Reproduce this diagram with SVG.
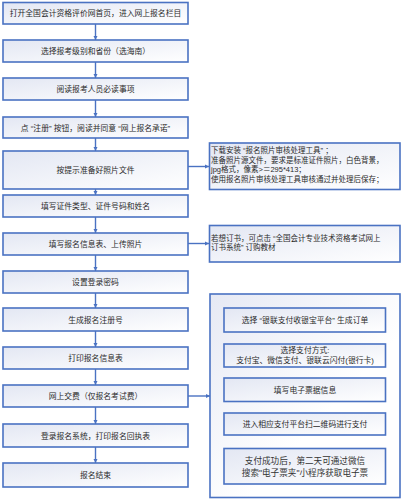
<svg xmlns="http://www.w3.org/2000/svg" width="403" height="500" viewBox="0 0 403 500">
<style>
.box{fill:url(#g);stroke:#4a72c2;stroke-width:1.6}
.panel{fill:url(#gp);stroke:#4a72c2;stroke-width:1.6}
.t{font-family:"Liberation Sans","Noto Sans CJK SC",sans-serif;font-size:7.8px;fill:#2a2a2a;text-anchor:middle}
.n{font-family:"Liberation Sans","Noto Sans CJK SC",sans-serif;font-size:7.5px;fill:#2a2a2a}
.e{font-family:"Liberation Sans","Noto Sans CJK SC",sans-serif;font-size:8.6px;fill:#333;text-anchor:middle}
.c{stroke:#4a72c2;stroke-width:1.4;fill:none;marker-end:url(#a)}
</style>
<defs>
<linearGradient id="g" x1="0" y1="0" x2="1" y2="1">
<stop offset="0" stop-color="#e3e7f3"/>
<stop offset="1" stop-color="#ffffff"/>
</linearGradient>
<linearGradient id="gp" x1="0" y1="0" x2="1" y2="1">
<stop offset="0" stop-color="#e6e9f4"/>
<stop offset="0.6" stop-color="#ffffff"/>
<stop offset="1" stop-color="#ffffff"/>
</linearGradient>
<marker id="a" viewBox="0 0 10 10" refX="10" refY="5" markerWidth="4.5" markerHeight="4.5" orient="auto" markerUnits="userSpaceOnUse">
<path d="M0,0 L10,5 L0,10 z" fill="#4a72c2"/>
</marker>
</defs>
<g id="connectors">
<line class="c" x1="95.5" y1="24" x2="95.5" y2="40"/>
<line class="c" x1="95.5" y1="62" x2="95.5" y2="78"/>
<line class="c" x1="95.5" y1="100" x2="95.5" y2="117"/>
<line class="c" x1="95.5" y1="138" x2="95.5" y2="151"/>
<line class="c" x1="95.5" y1="189" x2="95.5" y2="195"/>
<line class="c" x1="95.5" y1="217" x2="95.5" y2="233"/>
<line class="c" x1="95.5" y1="255" x2="95.5" y2="271"/>
<line class="c" x1="95.5" y1="293" x2="95.5" y2="308"/>
<line class="c" x1="95.5" y1="331" x2="95.5" y2="347"/>
<line class="c" x1="95.5" y1="369" x2="95.5" y2="385"/>
<line class="c" x1="95.5" y1="407" x2="95.5" y2="424"/>
<line class="c" x1="95.5" y1="447" x2="95.5" y2="463"/>
<line class="c" x1="188" y1="166.5" x2="209" y2="166.5"/>
<line class="c" x1="188" y1="243.5" x2="209" y2="243.5"/>
<line class="c" x1="188" y1="396" x2="210" y2="396"/>
<line class="c" x1="305" y1="332" x2="305" y2="344"/>
<line class="c" x1="305" y1="367" x2="305" y2="378"/>
<line class="c" x1="305" y1="401" x2="305" y2="413"/>
<line class="c" x1="305" y1="435" x2="305" y2="448"/>
</g>
<g id="n1"><rect class="box" x="3" y="2.5" width="185" height="21.5"/><text class="t" x="95.5" y="16">打开全国会计资格评价网首页，进入网上报名栏目</text></g>
<g id="n2"><rect class="box" x="3" y="40" width="185" height="22"/><text class="t" x="95.5" y="54">选择报考级别和省份（选海南）</text></g>
<g id="n3"><rect class="box" x="3" y="78" width="185" height="22"/><text class="t" x="95.5" y="92">阅读报考人员必读事项</text></g>
<g id="n4"><rect class="box" x="3" y="117" width="185" height="21"/><text class="t" x="95.5" y="130.5">点 “注册” 按钮，阅读并同意 “网上报名承诺”</text></g>
<g id="n5"><rect class="box" x="3" y="151" width="185" height="38"/><text class="t" x="95.5" y="173">按提示准备好照片文件</text></g>
<g id="n6"><rect class="box" x="3" y="195" width="185" height="22"/><text class="t" x="95.5" y="209">填写证件类型、证件号码和姓名</text></g>
<g id="n7"><rect class="box" x="3" y="233" width="185" height="22"/><text class="t" x="95.5" y="247">填写报名信息表、上传照片</text></g>
<g id="n8"><rect class="box" x="3" y="271" width="185" height="22"/><text class="t" x="95.5" y="285">设置登录密码</text></g>
<g id="n9"><rect class="box" x="3" y="308" width="185" height="23"/><text class="t" x="95.5" y="322.5">生成报名注册号</text></g>
<g id="n10"><rect class="box" x="3" y="347" width="185" height="22"/><text class="t" x="95.5" y="361">打印报名信息表</text></g>
<g id="n11"><rect class="box" x="3" y="385" width="185" height="22"/><text class="t" x="95.5" y="399">网上交费（仅报名考试费）</text></g>
<g id="n12"><rect class="box" x="3" y="424" width="185" height="23"/><text class="t" x="95.5" y="438.5">登录报名系统，打印报名回执表</text></g>
<g id="n13"><rect class="box" x="3" y="463" width="185" height="24"/><text class="t" x="95.5" y="478">报名结束</text></g>
<g id="note1"><rect class="box" x="209.5" y="143" width="190.5" height="46.5"/>
<text class="n" x="211" y="153">下载安装 “报名照片审核处理工具” ；</text>
<text class="n" x="211" y="162.5">准备照片源文件，要求是标准证件照片，白色背景，</text>
<text class="n" x="211" y="172">jpg格式，像素&gt;＝295*413；</text>
<text class="n" x="211" y="181.5">使用报名照片审核处理工具审核通过并处理后保存；</text>
</g>
<g id="note2"><rect class="box" x="209.5" y="225.5" width="190.5" height="36.5"/>
<text class="n" x="211" y="240.5">若想订书，可点击 “全国会计专业技术资格考试网上</text>
<text class="n" x="211" y="250">订书系统” 订购教材</text>
</g>
<g id="payment"><rect class="panel" x="210" y="294" width="190" height="203.5"/></g>
<g id="p1"><rect class="box" x="224" y="308" width="161.5" height="24"/><text class="t" x="305" y="322.5">选择 “银联支付收银宝平台” 生成订单</text></g>
<g id="p2"><rect class="box" x="224" y="344" width="161.5" height="23"/><text class="t" x="305" y="353">选择支付方式:</text><text class="t" x="305" y="363">支付宝、微信支付、银联云闪付(银行卡)</text></g>
<g id="p3"><rect class="box" x="224" y="378" width="161.5" height="23.5"/><text class="t" x="305" y="392.5">填写电子票据信息</text></g>
<g id="p4"><rect class="box" x="224" y="413" width="161.5" height="22"/><text class="t" x="305" y="427">进入相应支付平台扫二维码进行支付</text></g>
<g id="p5"><rect class="box" x="224" y="448.5" width="161.5" height="35.5"/><text class="e" x="305" y="464">支付成功后，第二天可通过微信</text><text class="e" x="305" y="475.5">搜索"电子票夹"小程序获取电子票</text></g>
</svg>
